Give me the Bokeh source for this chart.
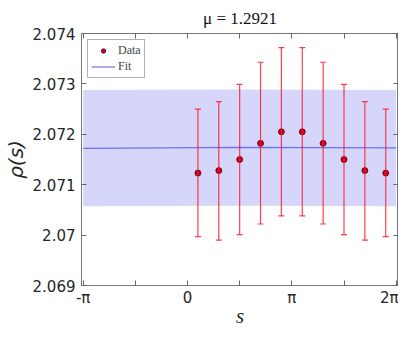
import math
from bokeh.plotting import figure
from bokeh.models import (ColumnDataSource, Whisker, TeeHead, FixedTicker, LinearAxis,
                          Range1d, Legend, LegendItem)
from bokeh.embed import file_html
from bokeh.resources import INLINE

PI = math.pi
# data
s_vals = [PI/10, 3*PI/10, 5*PI/10, 7*PI/10, 9*PI/10, 11*PI/10, 13*PI/10, 15*PI/10, 17*PI/10, 19*PI/10]
rho_vals = [2.07123, 2.07128, 2.07150, 2.07182, 2.07205, 2.07205, 2.07182, 2.07150, 2.07128, 2.07123]
rho_lower = [2.06997, 2.06990, 2.07001, 2.07022, 2.07038, 2.07038, 2.07022, 2.07001, 2.06990, 2.06997]
rho_upper = [2.07250, 2.07265, 2.07299, 2.07343, 2.07372, 2.07372, 2.07343, 2.07299, 2.07265, 2.07250]

fit_s = [-PI, PI/2, 2*PI]
fit_rho = [2.07172, 2.07174, 2.07173]
fit_lower = [2.07057, 2.07058, 2.07057]
fit_upper = [2.07288, 2.07289, 2.07288]

y_ticks = [2.069, 2.070, 2.071, 2.072, 2.073, 2.074]
y_tick_labels = ["2.069", "2.07", "2.071", "2.072", "2.073", "2.074"]
x_ticks = [-PI, -PI/2, 0, PI/2, PI, 3*PI/2, 2*PI]
x_tick_labels = ["-π", "", "0", "", "π", "", "2π"]

p = figure(frame_width=317, frame_height=252, output_backend="svg", toolbar_location=None,
           x_range=Range1d(-PI - 0.05, 2*PI + 0.07), y_range=Range1d(2.069, 2.074),
           min_border_left=0, min_border_right=0, min_border_top=0, min_border_bottom=0)
p.title.text = "μ = 1.2921"
p.title.align = "center"
p.title.text_font = "Liberation Serif"
p.title.text_font_size = "17px"
p.title.text_font_style = "normal"
p.title.text_color = "#111111"
p.title.standoff = 12
p.title.text_line_height = 2.3
p.grid.visible = False
p.outline_line_color = "#777777"
p.background_fill_color = "white"

band = p.varea(x=fit_s, y1=fit_lower, y2=fit_upper, fill_color="#d6d6fb", fill_alpha=1.0)
fit_line = p.line(fit_s, fit_rho, line_color="#7070ee", line_width=1.2)

src = ColumnDataSource(dict(s=s_vals, rho=rho_vals, lo=rho_lower, hi=rho_upper))
wh = Whisker(source=src, base="s", lower="lo", upper="hi", line_color="#ff1020", line_alpha=0.8,
             line_width=1.2, level="overlay",
             upper_head=TeeHead(size=6, line_color="#ff1020", line_alpha=0.8, line_width=1.2),
             lower_head=TeeHead(size=6, line_color="#ff1020", line_alpha=0.8, line_width=1.2))
p.add_layout(wh)
pts = p.scatter("s", "rho", source=src, size=6, fill_color="#cc0020", line_color="#550010",
                line_width=0.8, level="overlay")

def style_axis(ax):
    ax.axis_line_color = None
    ax.major_tick_in = 5
    ax.major_tick_out = 0
    ax.minor_tick_line_color = None
    ax.major_tick_line_color = "#666666"
    ax.major_label_text_color = "#262626"
    ax.major_label_text_font = "DejaVu Sans"
    ax.major_label_text_font_size = "15px"

p.xaxis.ticker = FixedTicker(ticks=x_ticks)
p.xaxis.major_label_overrides = {t: l for t, l in zip(x_ticks, x_tick_labels)}
p.yaxis.ticker = FixedTicker(ticks=y_ticks)
p.yaxis.major_label_overrides = {t: l for t, l in zip(y_ticks, y_tick_labels)}
style_axis(p.xaxis[0])
style_axis(p.yaxis[0])
p.xaxis.major_label_standoff = 3
p.yaxis.major_label_standoff = 6
p.xaxis.axis_label = "s"
p.xaxis.axis_label_text_font = "Liberation Serif"
p.xaxis.axis_label_text_font_style = "italic"
p.xaxis.axis_label_text_font_size = "21px"
p.xaxis.axis_label_standoff = -6
p.yaxis.axis_label = "ρ(s)"
p.yaxis.axis_label_text_font = "DejaVu Sans"
p.yaxis.axis_label_text_font_style = "italic"
p.yaxis.axis_label_text_font_size = "20px"
p.yaxis.axis_label_standoff = 2
p.xaxis.axis_label_text_color = "#262626"
p.yaxis.axis_label_text_color = "#262626"

top_ax = LinearAxis(ticker=FixedTicker(ticks=x_ticks))
style_axis(top_ax)
top_ax.major_label_overrides = {t: "" for t in x_ticks}
top_ax.major_label_standoff = 0
p.add_layout(top_ax, "above")
right_ax = LinearAxis(ticker=FixedTicker(ticks=y_ticks))
style_axis(right_ax)
right_ax.major_label_overrides = {t: "" for t in y_ticks}
right_ax.major_label_standoff = 0
p.add_layout(right_ax, "right")

legend = Legend(items=[LegendItem(label="Data", renderers=[pts]),
                       LegendItem(label="Fit", renderers=[fit_line])],
                location="top_left")
legend.label_text_font = "Liberation Serif"
legend.label_text_font_size = "12px"
legend.label_height = 11
legend.glyph_height = 11
legend.glyph_width = 24
legend.spacing = 1
legend.padding = 3
legend.margin = 6
legend.label_standoff = 3
legend.border_line_color = "#666666"
legend.background_fill_alpha = 1.0
p.add_layout(legend)

open("out.html", "w").write(file_html(p, INLINE))
